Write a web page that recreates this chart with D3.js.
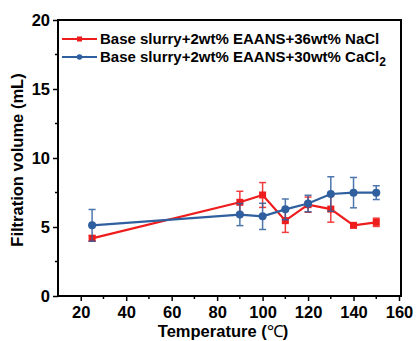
<!DOCTYPE html>
<html>
<head>
<meta charset="utf-8">
<script src="https://cdn.jsdelivr.net/npm/d3@7"></script>
<style>
  body { margin: 0; background: #fff; }
  text { font-family: "Liberation Sans", Arial, sans-serif; }
</style>
</head>
<body>
<div id="chart"></div>
<script>
const temperatures = [25, 90, 100, 110, 120, 130, 140, 150];
const naclValues = [4.18, 6.79, 7.32, 5.46, 6.62, 6.3, 5.12, 5.34];
const naclErrors = [0.2, 0.8, 0.9, 0.85, 0.55, 0.95, 0.15, 0.3];
const caclValues = [5.12, 5.9, 5.77, 6.28, 6.7, 7.39, 7.49, 7.49];
const caclErrors = [1.15, 0.8, 0.95, 0.75, 0.6, 1.25, 1.1, 0.5];
const xTicks = [20, 40, 60, 80, 100, 120, 140, 160];
const yTicks = [0, 5, 10, 15, 20];

const width = 416;
const height = 341;
const margins = { top: 20, right: 15, bottom: 45, left: 58 };

const svg = d3.select('#chart').append('svg')
  .attr('width', width)
  .attr('height', height);

const xScale = d3.scaleLinear().domain([10, 160]).range([margins.left, 399]);
const yScale = d3.scaleLinear().domain([0, 20]).range([296, margins.top]);

// frame
svg.append('rect')
  .attr('x', margins.left)
  .attr('y', yScale(20))
  .attr('width', 401 - margins.left)
  .attr('height', yScale(0) - yScale(20))
  .attr('fill', 'none')
  .attr('stroke', '#000')
  .attr('stroke-width', 2);

const xAxis = svg.append('g')
  .attr('transform', `translate(0,${yScale(0)})`)
  .call(d3.axisBottom(xScale).tickValues(xTicks).tickSize(5).tickPadding(5));
xAxis.append('g').selectAll('line')
  .data(d3.range(30, 160, 20))
  .join('line')
  .attr('x1', d => xScale(d)).attr('x2', d => xScale(d))
  .attr('y1', 0).attr('y2', 3)
  .attr('stroke', '#000').attr('stroke-width', 1.5);

const yAxis = svg.append('g')
  .attr('transform', `translate(${margins.left},0)`)
  .call(d3.axisLeft(yScale).tickValues(yTicks).tickSize(5).tickPadding(3));
yAxis.append('g').selectAll('line')
  .data([2.5, 7.5, 12.5, 17.5])
  .join('line')
  .attr('y1', d => yScale(d)).attr('y2', d => yScale(d))
  .attr('x1', 0).attr('x2', -3)
  .attr('stroke', '#000').attr('stroke-width', 1.5);

[xAxis, yAxis].forEach(ax => {
  ax.select('.domain').remove();
  ax.selectAll('.tick line').attr('stroke-width', 1.5);
  ax.selectAll('.tick text')
    .attr('font-size', 16.5)
    .attr('font-weight', 'bold')
    .attr('fill', '#000');
});

// axis titles
svg.append('text')
  .attr('x', 223)
  .attr('y', 337)
  .attr('text-anchor', 'middle')
  .attr('font-size', 16.5)
  .attr('font-weight', 'bold')
  .text('Temperature (')
  .append('tspan')
  .attr('font-family', '"Liberation Serif", serif')
  .attr('font-weight', 'normal')
  .text('℃')
  .append('tspan')
  .attr('font-family', '"Liberation Sans", Arial, sans-serif')
  .attr('font-weight', 'bold')
  .text(')');

svg.append('text')
  .attr('transform', `translate(23,160) rotate(-90)`)
  .attr('text-anchor', 'middle')
  .attr('font-size', 16.5)
  .attr('font-weight', 'bold')
  .text('Filtration volume (mL)');

const series = [
  { values: naclValues, errors: naclErrors, color: '#ee1c1c', marker: 'square' },
  { values: caclValues, errors: caclErrors, color: '#2f5f9e', marker: 'circle' }
];

const lineGenerator = d3.line()
  .x((d, i) => xScale(temperatures[i]))
  .y(d => yScale(d));

series.forEach(s => {
  const g = svg.append('g');
  const err = g.append('g').attr('stroke', s.color).attr('stroke-width', 1.5).attr('opacity', 0.85);
  temperatures.forEach((t, i) => {
    const x = xScale(t);
    const y1 = yScale(s.values[i] + s.errors[i]);
    const y2 = yScale(s.values[i] - s.errors[i]);
    err.append('line').attr('x1', x).attr('x2', x).attr('y1', y1).attr('y2', y2);
    err.append('line').attr('x1', x - 3.5).attr('x2', x + 3.5).attr('y1', y1).attr('y2', y1);
    err.append('line').attr('x1', x - 3.5).attr('x2', x + 3.5).attr('y1', y2).attr('y2', y2);
  });
  g.append('path')
    .attr('d', lineGenerator(s.values))
    .attr('fill', 'none')
    .attr('stroke', s.color)
    .attr('stroke-width', 2.2);
  if (s.marker === 'square') {
    g.selectAll('rect').data(s.values).join('rect')
      .attr('x', (d, i) => xScale(temperatures[i]) - 3.5)
      .attr('y', d => yScale(d) - 3.5)
      .attr('width', 7).attr('height', 7)
      .attr('fill', s.color);
  } else {
    g.selectAll('circle').data(s.values).join('circle')
      .attr('cx', (d, i) => xScale(temperatures[i]))
      .attr('cy', d => yScale(d))
      .attr('r', 4)
      .attr('fill', s.color);
  }
});

// legend
const legend = svg.append('g');
const legendItems = [
  { label: 'Base slurry+2wt% EAANS+36wt% NaCl', sub: null, s: series[0], y: 39 },
  { label: 'Base slurry+2wt% EAANS+30wt% CaCl', sub: '2', s: series[1], y: 57 }
];
legendItems.forEach(item => {
  legend.append('line')
    .attr('x1', 62).attr('x2', 97)
    .attr('y1', item.y).attr('y2', item.y)
    .attr('stroke', item.s.color).attr('stroke-width', 2.2);
  if (item.s.marker === 'square') {
    legend.append('rect').attr('x', 77).attr('y', item.y - 2.5).attr('width', 5).attr('height', 5).attr('fill', item.s.color);
  } else {
    legend.append('circle').attr('cx', 79.5).attr('cy', item.y).attr('r', 2.8).attr('fill', item.s.color);
  }
  const t = legend.append('text')
    .attr('x', 100).attr('y', item.y + 5)
    .attr('font-size', 15)
    .attr('font-weight', 'bold')
    .text(item.label);
  if (item.sub) {
    t.append('tspan').attr('dy', 4).attr('font-size', 12).text(item.sub);
  }
});
</script>
</body>
</html>
